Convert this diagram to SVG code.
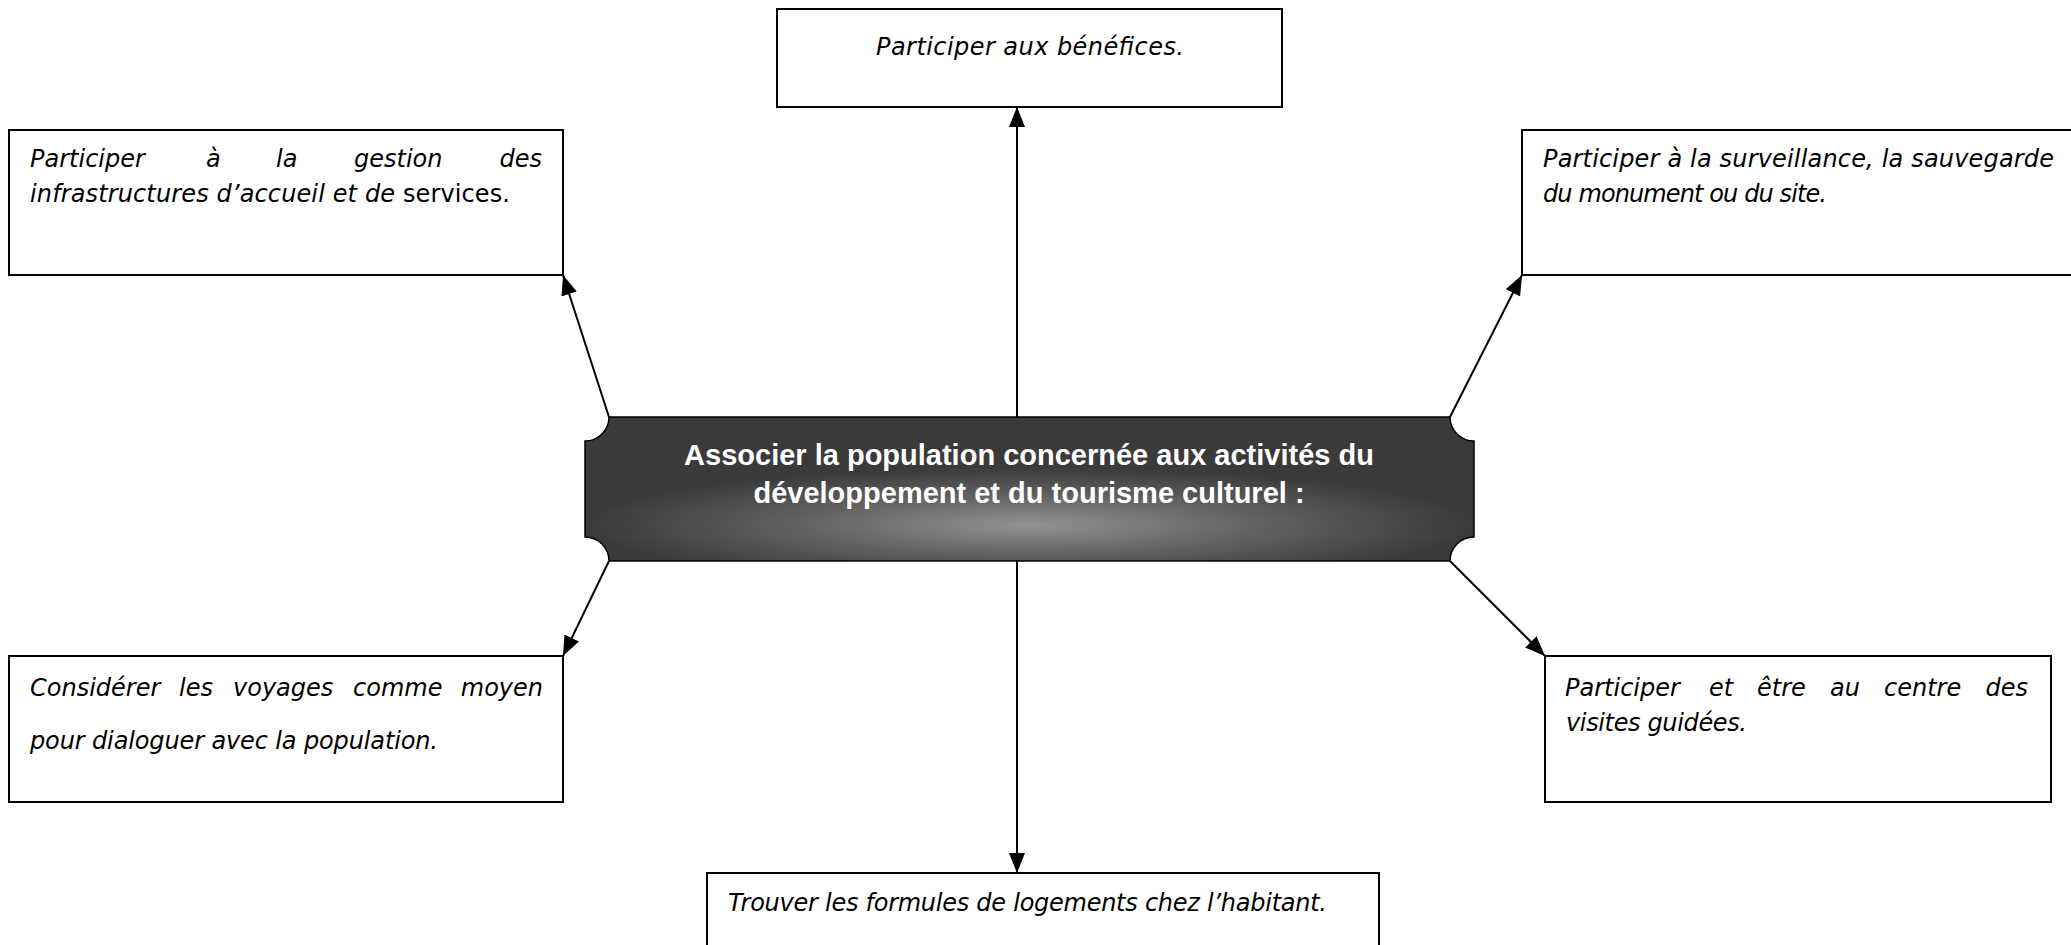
<svg xmlns="http://www.w3.org/2000/svg" width="2071" height="945" viewBox="0 0 2071 945">
  <defs>
    <radialGradient id="plaqueFill" cx="0.5" cy="0.75" r="0.5" gradientTransform="translate(0 0.15) scale(1 0.8)">
      <stop offset="0" stop-color="#929292"/>
      <stop offset="0.5" stop-color="#636363"/>
      <stop offset="1" stop-color="#3a3a3a"/>
    </radialGradient>
    <marker id="arrow" markerUnits="userSpaceOnUse" markerWidth="20" markerHeight="16" refX="20" refY="8" orient="auto">
      <path d="M0,0 L20,8 L0,16 Z" fill="#000"/>
    </marker>
  </defs>
  <style>
    .box { fill: #fff; stroke: #000; stroke-width: 2; }
    .txt { font-family: "DejaVu Sans", "Liberation Sans", sans-serif; font-size: 24px; font-style: italic; fill: #000; }
    .up { font-style: normal; }
    .end { text-anchor: end; }
    .conn { stroke: #000; stroke-width: 2; fill: none; marker-end: url(#arrow); }
    .title { font-family: "Liberation Sans", Arial, sans-serif; font-size: 29px; font-weight: bold; fill: #fff; text-anchor: middle; }
  </style>
  <rect width="2071" height="945" fill="#fff"/>

  <!-- connectors -->
  <g id="connectors">
    <line class="conn" x1="1017" y1="417" x2="1017" y2="107"/>
    <line class="conn" x1="1017" y1="561" x2="1017" y2="873"/>
    <line class="conn" x1="609" y1="417" x2="563" y2="275"/>
    <line class="conn" x1="1450" y1="417" x2="1522" y2="275"/>
    <line class="conn" x1="609" y1="561" x2="563" y2="656"/>
    <line class="conn" x1="1450" y1="561" x2="1545" y2="656"/>
  </g>

  <!-- central plaque -->
  <g id="center">
    <path d="M609 417 H1450 A24 24 0 0 0 1474 441 V537 A24 24 0 0 0 1450 561 H609 A24 24 0 0 0 585 537 V441 A24 24 0 0 0 609 417 Z" fill="url(#plaqueFill)" stroke="#000" stroke-width="1.5"/>
    <text class="title" x="1029" y="465">Associer la population concernée aux activités du</text>
    <text class="title" x="1029" y="503">développement et du tourisme culturel :</text>
  </g>

  <g id="top">
    <rect class="box" x="777" y="9" width="505" height="98"/>
    <text class="txt" x="876" y="55" textLength="308" lengthAdjust="spacing">Participer aux bénéfices.</text>
  </g>

  <!-- justified lines: one tspan per word -->
  <g id="top-left">
    <rect class="box" x="9" y="130" width="554" height="145"/>
    <text class="txt" y="167"><tspan x="30">Participer</tspan><tspan x="206">à</tspan><tspan x="276">la</tspan><tspan x="354">gestion</tspan><tspan x="542" class="end">des</tspan></text>
    <text class="txt" x="30" y="202" textLength="480" lengthAdjust="spacing">infrastructures d’accueil et de <tspan class="up">services.</tspan></text>
  </g>

  <g id="top-right">
    <rect class="box" x="1522" y="130" width="560" height="145"/>
    <text class="txt" x="1543" y="167" textLength="511" lengthAdjust="spacing">Participer à la surveillance, la sauvegarde</text>
    <text class="txt" x="1543" y="202" textLength="284" lengthAdjust="spacing">du monument ou du site.</text>
  </g>

  <g id="bottom-left">
    <rect class="box" x="9" y="656" width="554" height="146"/>
    <text class="txt" y="696"><tspan x="30">Considérer</tspan><tspan x="179">les</tspan><tspan x="233">voyages</tspan><tspan x="353">comme</tspan><tspan x="543" class="end">moyen</tspan></text>
    <text class="txt" x="30" y="749" textLength="408" lengthAdjust="spacing">pour dialoguer avec la population.</text>
  </g>

  <g id="bottom-right">
    <rect class="box" x="1545" y="656" width="506" height="146"/>
    <text class="txt" y="696"><tspan x="1565">Participer</tspan><tspan x="1709">et</tspan><tspan x="1757">être</tspan><tspan x="1830">au</tspan><tspan x="1884">centre</tspan><tspan x="2028" class="end">des</tspan></text>
    <text class="txt" x="1566" y="731" textLength="181" lengthAdjust="spacing">visites guidées.</text>
  </g>

  <g id="bottom">
    <rect class="box" x="707" y="873" width="672" height="90"/>
    <text class="txt" x="728" y="911" textLength="599" lengthAdjust="spacing">Trouver les formules de logements chez l’habitant.</text>
  </g>
</svg>
